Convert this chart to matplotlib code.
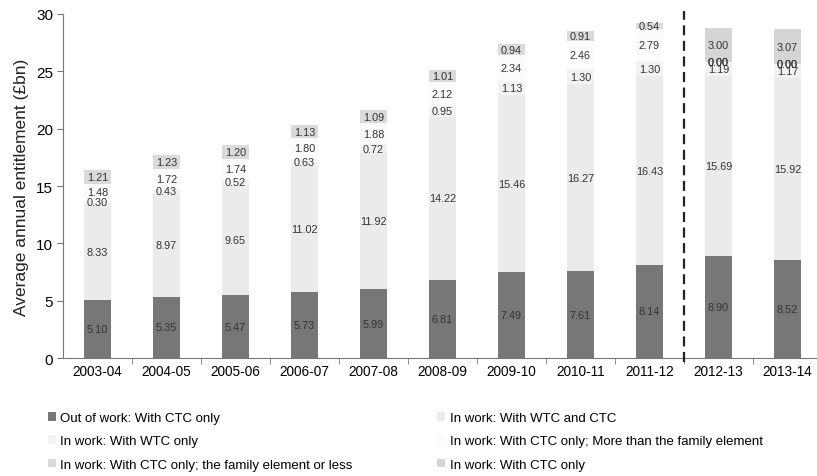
import numpy as np
import matplotlib
matplotlib.use('Agg')
import matplotlib.pyplot as plt
from matplotlib.patches import Patch

plt.rcParams['font.family'] = ['Liberation Sans', 'DejaVu Sans']

years = ['2003-04', '2004-05', '2005-06', '2006-07', '2007-08', '2008-09',
         '2009-10', '2010-11', '2011-12', '2012-13', '2013-14']

# None = not shown on the chart
out_ctc = [5.10, 5.35, 5.47, 5.73, 5.99, 6.81, 7.49, 7.61, 8.14, 8.90, 8.52]
wtc_ctc = [8.33, 8.97, 9.65, 11.02, 11.92, 14.22, 15.46, 16.27, 16.43, 15.69, 15.92]
wtc_only = [0.30, 0.43, 0.52, 0.63, 0.72, 0.95, 1.13, 1.30, 1.30, 1.19, 1.17]
ctc_more = [1.48, 1.72, 1.74, 1.80, 1.88, 2.12, 2.34, 2.46, 2.79, 0.00, 0.00]
ctc_less = [1.21, 1.23, 1.20, 1.13, 1.09, 1.01, 0.94, 0.91, 0.54, 0.00, 0.00]
ctc_only = [None, None, None, None, None, None, None, None, None, 3.00, 3.07]

labels = ['Out of work: With CTC only',
          'In work: With WTC and CTC',
          'In work: With WTC only',
          'In work: With CTC only; More than the family element',
          'In work: With CTC only; the family element or less',
          'In work: With CTC only']
colors = ['#767779', '#ebebec', '#f2f2f2', '#fbfbfb', '#dadada', '#d5d5d5']
series = [out_ctc, wtc_ctc, wtc_only, ctc_more, ctc_less, ctc_only]

fig = plt.figure(figsize=(8.17, 4.77), dpi=100)
ax = fig.add_axes([0.077, 0.247, 0.923, 0.7216])

x = np.arange(len(years))
bottom = np.zeros(len(years))
for vals, col in zip(series, colors):
    v = np.array([0 if a is None else a for a in vals], dtype=float)
    ax.bar(x, v, 0.39, bottom=bottom, color=col, edgecolor='none', zorder=2)
    # value labels centred in each segment
    for i, a in enumerate(vals):
        if a is None:
            continue
        ax.text(x[i], bottom[i] + a / 2, '%.2f' % a, ha='center', va='center',
                fontsize=7.8, color='#333333', zorder=3)
    bottom += v

ax.set_xlim(-0.5, 10.43)
ax.set_ylim(0, 30)
ax.set_yticks(range(0, 31, 5))
ax.set_xticks(x)
ax.set_xticklabels(years, fontsize=9.8)
ax.set_xticks(np.arange(0.5, 10, 1), minor=True)
ax.tick_params(axis='x', which='major', length=0, pad=4)
ax.tick_params(axis='x', which='minor', length=4, color='#777777', direction='out')
ax.tick_params(axis='y', labelsize=11, length=4, color='#777777', pad=3)
for s in ['top', 'right']:
    ax.spines[s].set_visible(False)
ax.spines['left'].set_color('#777777')
ax.spines['bottom'].set_color('#777777')
ax.set_ylabel('Average annual entitlement (£bn)', fontsize=12.5, color='#222222', labelpad=5)

# forecast divider
ax.axvline(8.5, ymin=-0.01, ymax=1.01, color='#222222', linestyle=(0, (4.5, 2.5)),
           linewidth=1.6, clip_on=False, zorder=4)

handles = [Patch(facecolor=c, edgecolor='none') for c in colors]
kw = dict(frameon=False, fontsize=9.5, handlelength=0.6, handleheight=0.6,
          handletextpad=0.35, labelspacing=0.85, borderaxespad=0)
fig.legend([handles[i] for i in (0, 2, 4)], [labels[i] for i in (0, 2, 4)],
           loc='upper left', bbox_to_anchor=(0.052, 0.145), **kw)
fig.legend([handles[i] for i in (1, 3, 5)], [labels[i] for i in (1, 3, 5)],
           loc='upper left', bbox_to_anchor=(0.529, 0.145), **kw)

fig.savefig('out.png', dpi=100)
